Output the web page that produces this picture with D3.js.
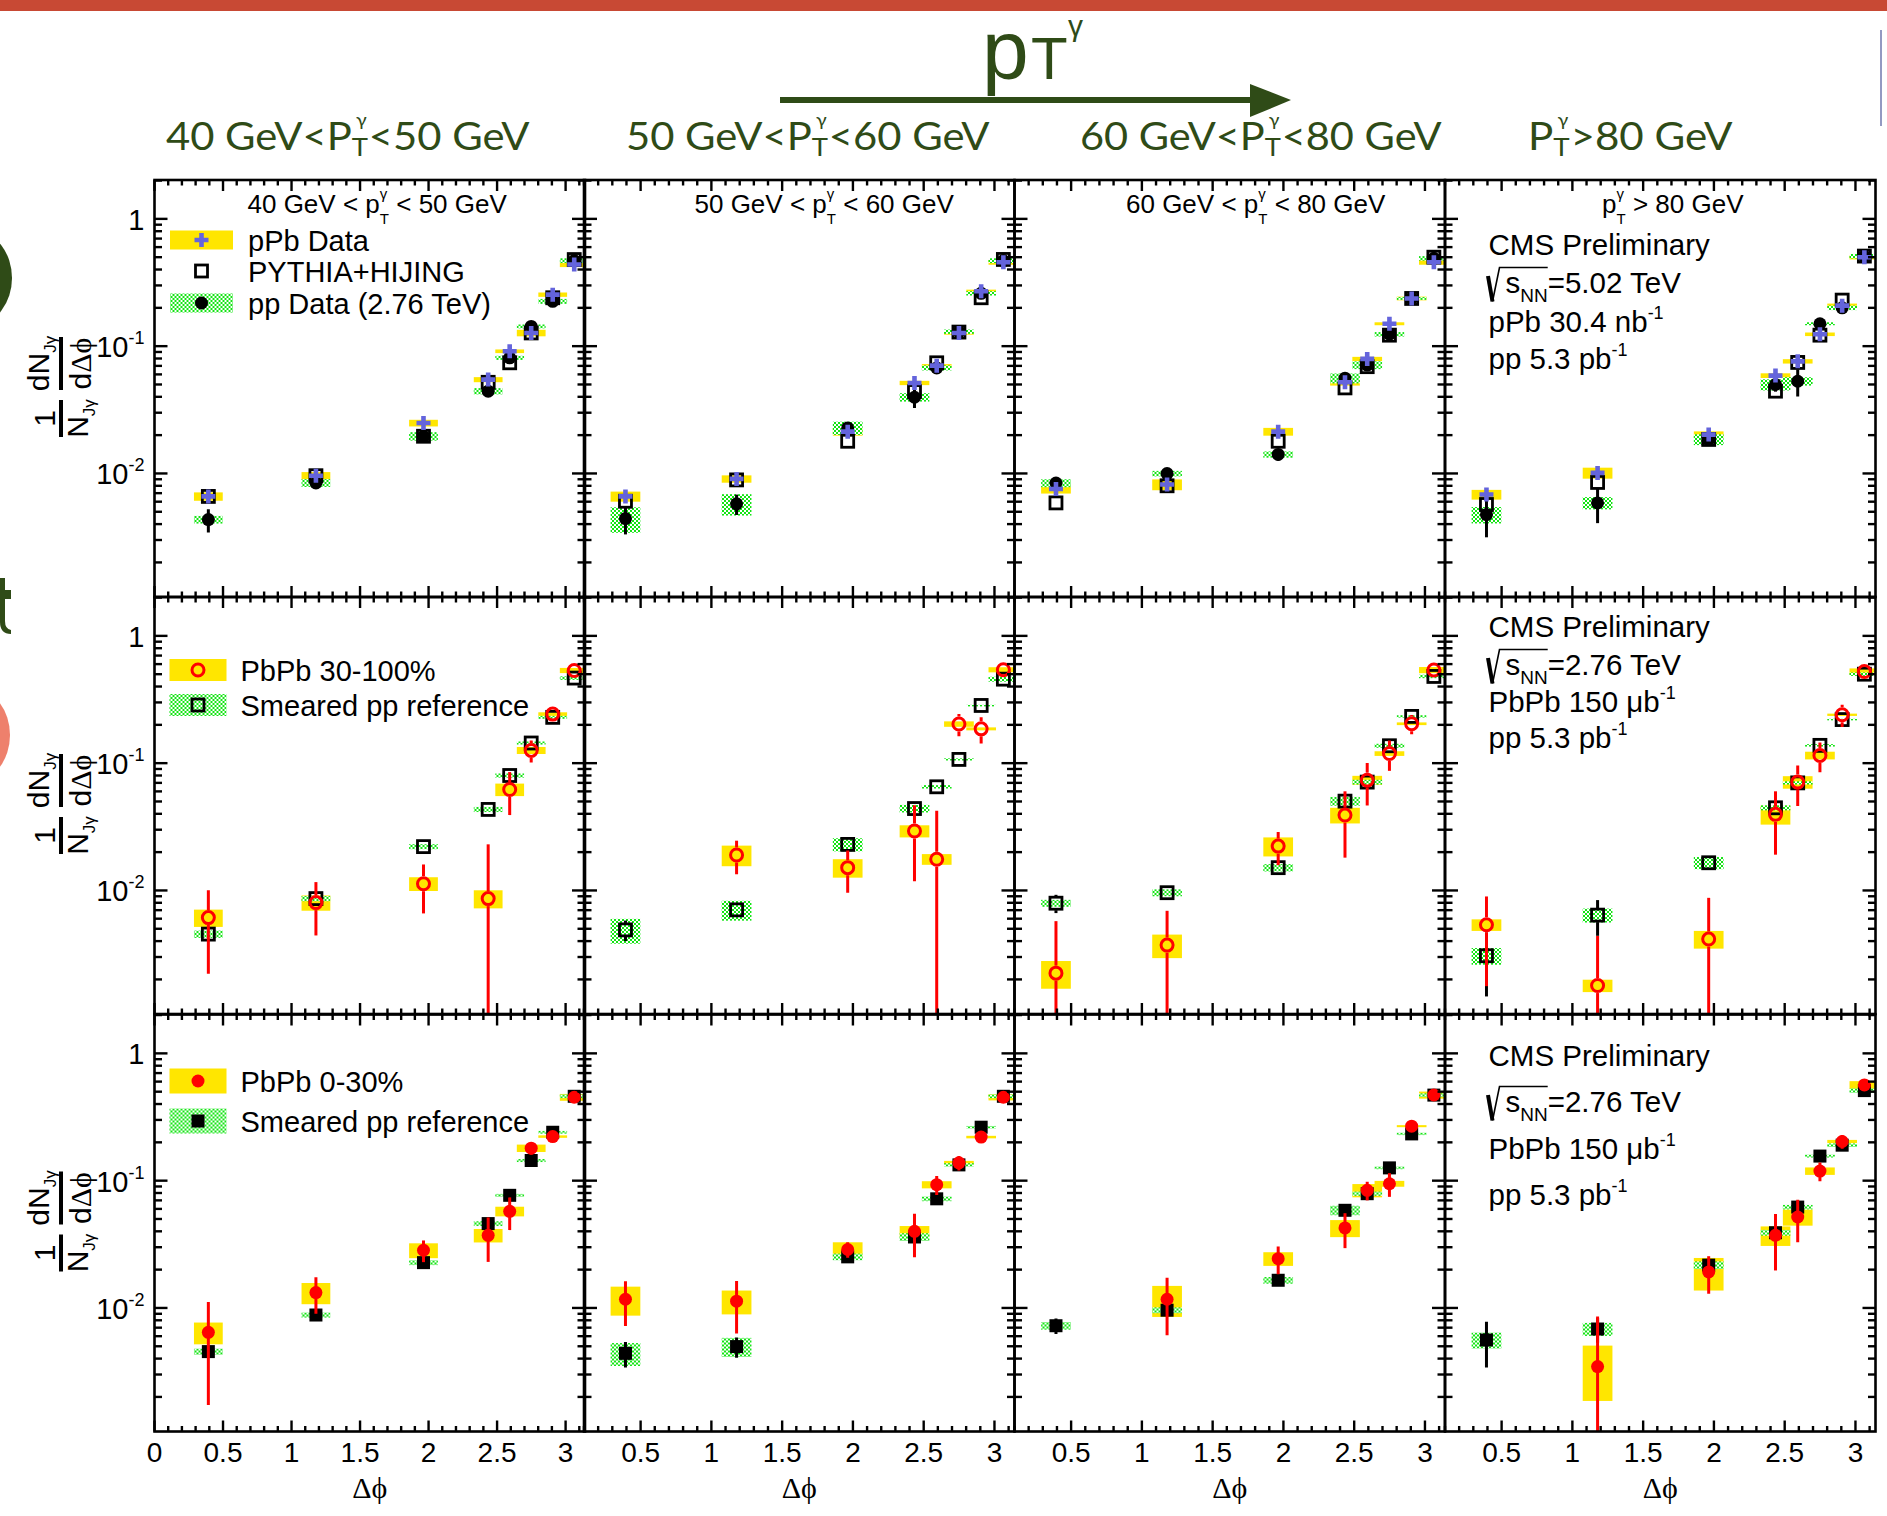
<!DOCTYPE html>
<html>
<head>
<meta charset="utf-8">
<title>Jet–photon azimuthal correlations</title>
<script src="https://cdn.jsdelivr.net/npm/d3@7"></script>
<style>
  html, body { margin: 0; padding: 0; background: #fff; }
  svg { display: block; }
</style>
</head>
<body>
<svg id="fig" width="1887" height="1516"></svg>
<script>
// ---------------------------------------------------------------------------
// Data
// ---------------------------------------------------------------------------
// Δφ bin centres shared by every panel
const dphi = [0.393, 1.178, 1.963, 2.435, 2.592, 2.749, 2.906, 3.063];

// photon pT selections, one per column
const headLow  = ["40 GeV<", "50 GeV<", "60 GeV<", ""];
const headHigh = ["<50 GeV", "<60 GeV", "<80 GeV", ">80 GeV"];
const panelLow  = ["40 GeV < ", "50 GeV < ", "60 GeV < ", ""];
const panelHigh = [" < 50 GeV", " < 60 GeV", " < 80 GeV", " > 80 GeV"];

// y tick labels (decades)
const yTickDecades = [0, -1, -2];

// Row 1: pPb 5.02 TeV vs PYTHIA+HIJING vs pp 2.76 TeV  (one inner array per column)
const pPbVal = [
  [0.0066, 0.0096, 0.0249, 0.0546, 0.0912, 0.127, 0.254, 0.438],
  [0.0066, 0.00906, 0.0213, 0.0514, 0.0703, 0.127, 0.27, 0.456],
  [0.00755, 0.00818, 0.0213, 0.052, 0.0794, 0.15, 0.237, 0.456],
  [0.00683, 0.0101, 0.0202, 0.0587, 0.076, 0.124, 0.208, 0.50]
];
const pPbSys = [
  [0.0005, 0.00065, 0.0015, 0.0025, 0.003, 0.0075, 0.01, 0.02],
  [0.0006, 0.0006, 0.0015, 0.002, 0.002, 0.004, 0.008, 0.02],
  [0.0006, 0.0008, 0.0015, 0.003, 0.003, 0.004, 0.008, 0.02],
  [0.0006, 0.001, 0.0012, 0.0025, 0.003, 0.004, 0.008, 0.02]
];
const pythiaVal = [
  [0.0066, 0.0096, 0.0196, 0.052, 0.074, 0.127, 0.24, 0.479],
  [0.00605, 0.0089, 0.0179, 0.044, 0.074, 0.129, 0.24, 0.48],
  [0.00587, 0.008, 0.0179, 0.047, 0.069, 0.122, 0.237, 0.5],
  [0.0057, 0.0085, 0.0185, 0.0443, 0.0745, 0.122, 0.23, 0.51]
];
const ppVal = [
  [0.00434, 0.00843, 0.0196, 0.0443, 0.081, 0.143, 0.225, 0.47],
  [0.00442, 0.00577, 0.0228, 0.0397, 0.0675, 0.13, 0.26, 0.47],
  [0.0084, 0.00998, 0.0141, 0.056, 0.071, 0.124, 0.237, 0.49],
  [0.00475, 0.00587, 0.0185, 0.0499, 0.053, 0.15, 0.20, 0.51]
];
const ppStat = [
  [0.0009, 0.0008, 0.0015, 0.003, 0.005, 0.008, 0.012, 0.02],
  [0.0011, 0.00105, 0.002, 0.007, 0.007, 0.008, 0.012, 0.02],
  [0.0009, 0.001, 0.0015, 0.004, 0.005, 0.006, 0.01, 0.02],
  [0.0016, 0.0018, 0.002, 0.006, 0.0127, 0.01, 0.015, 0.02]
];
const ppSys = [
  [0.0003, 0.0006, 0.0015, 0.0025, 0.003, 0.005, 0.01, 0.02],
  [0.001, 0.0011, 0.0027, 0.003, 0.003, 0.005, 0.01, 0.02],
  [0.0006, 0.0005, 0.0008, 0.005, 0.005, 0.005, 0.006, 0.02],
  [0.0007, 0.00065, 0.0018, 0.005, 0.004, 0.004, 0.008, 0.02]
];

// Row 2: PbPb 30-100% vs smeared pp reference
const perVal = [
  [0.00612, 0.00803, 0.0113, 0.00863, 0.0621, 0.126, 0.243, 0.535],
  [null, 0.019, 0.0151, 0.0293, 0.0176, 0.203, 0.186, 0.542],
  [0.00224, 0.00372, 0.0223, 0.0391, 0.0735, 0.119, 0.204, 0.539],
  [0.00537, 0.00179, 0.00415, 0.0396, 0.071, 0.115, 0.24, 0.525]
];
const perStat = [
  [0.0039, 0.0036, 0.0047, 0.0144, 0.023, 0.025, 0.03, 0.03],
  [null, 0.0056, 0.0055, 0.0175, 0.0246, 0.04, 0.043, 0.03],
  [0.0035, 0.0032, 0.0065, 0.021, 0.027, 0.032, 0.035, 0.03],
  [0.0036, 0.0026, 0.0046, 0.0205, 0.025, 0.03, 0.048, 0.03]
];
const perSys = [
  [0.00095, 0.0011, 0.0014, 0.0014, 0.007, 0.008, 0.008, 0.025],
  [null, 0.0035, 0.0025, 0.0032, 0.0017, 0.01, 0.005, 0.025],
  [0.00055, 0.00078, 0.0038, 0.0055, 0.006, 0.005, 0.005, 0.03],
  [0.00056, 0.0002, 0.00066, 0.0067, 0.008, 0.008, 0.005, 0.03]
];
const refPerVal = [
  [0.00454, 0.00863, 0.0221, 0.0433, 0.08, 0.144, 0.229, 0.466],
  [0.0049, 0.00704, 0.023, 0.044, 0.0652, 0.107, 0.284, 0.457],
  [0.00794, 0.0096, 0.0151, 0.0503, 0.071, 0.137, 0.233, 0.48],
  [0.00307, 0.0064, 0.0165, 0.0446, 0.07, 0.138, 0.22, 0.5]
];
const refPerStat = [
  [0.0003, 0.0005, 0.001, 0.002, 0.003, 0.005, 0.008, 0.015],
  [0.0009, 0.0008, 0.001, 0.002, 0.003, 0.004, 0.008, 0.015],
  [0.0013, 0.0008, 0.0015, 0.002, 0.003, 0.005, 0.008, 0.015],
  [0.0016, 0.002, 0.002, 0.003, 0.004, 0.006, 0.008, 0.015]
];
const refPerSys = [
  [0.0003, 0.0004, 0.001, 0.002, 0.003, 0.004, 0.006, 0.015],
  [0.00108, 0.00125, 0.0027, 0.003, 0.002, 0.002, 0.003, 0.02],
  [0.0005, 0.0006, 0.001, 0.004, 0.003, 0.005, 0.005, 0.015],
  [0.00046, 0.0008, 0.0018, 0.002, 0.002, 0.003, 0.003, 0.015]
];

// Row 3: PbPb 0-30% vs smeared pp reference
const cenVal = [
  [0.00643, 0.0132, 0.0284, 0.0372, 0.0574, 0.18, 0.222, 0.452],
  [0.0117, 0.0113, 0.0288, 0.04, 0.093, 0.138, 0.22, 0.452],
  [null, 0.0117, 0.0244, 0.0425, 0.084, 0.0946, 0.268, 0.471],
  [null, 0.00346, 0.0192, 0.0372, 0.0518, 0.119, 0.203, 0.565]
];
const cenStat = [
  [0.0047, 0.0042, 0.0055, 0.0142, 0.0165, 0.02, 0.02, 0.02],
  [0.0045, 0.005, 0.004, 0.015, 0.016, 0.018, 0.015, 0.02],
  [null, 0.0056, 0.006, 0.013, 0.014, 0.02, 0.02, 0.02],
  [null, 0.0051, 0.0063, 0.0175, 0.019, 0.02, 0.025, 0.03]
];
const cenSys = [
  [0.00125, 0.0025, 0.0038, 0.0045, 0.005, 0.012, 0.005, 0.028],
  [0.003, 0.0024, 0.004, 0.004, 0.006, 0.005, 0.005, 0.025],
  [null, 0.0032, 0.003, 0.0065, 0.01, 0.005, 0.005, 0.03],
  [null, 0.0016, 0.0055, 0.0065, 0.0075, 0.008, 0.006, 0.04]
];
const refCenVal = [
  [0.00454, 0.0088, 0.0227, 0.046, 0.0767, 0.144, 0.24, 0.46],
  [0.0044, 0.00497, 0.0252, 0.0361, 0.072, 0.133, 0.263, 0.46],
  [0.00725, 0.0096, 0.0165, 0.0585, 0.079, 0.126, 0.233, 0.47],
  [0.0056, 0.00683, 0.0217, 0.039, 0.062, 0.156, 0.19, 0.51]
];
const refCenStat = [
  [0.0003, 0.0008, 0.001, 0.002, 0.003, 0.005, 0.008, 0.015],
  [0.001, 0.0009, 0.0015, 0.002, 0.004, 0.005, 0.008, 0.015],
  [0.001, 0.001, 0.0015, 0.004, 0.004, 0.005, 0.008, 0.015],
  [0.0022, 0.0015, 0.002, 0.003, 0.005, 0.006, 0.01, 0.02]
];
const refCenSys = [
  [0.00025, 0.0004, 0.001, 0.002, 0.002, 0.004, 0.006, 0.015],
  [0.0009, 0.00085, 0.0015, 0.0025, 0.003, 0.004, 0.006, 0.015],
  [0.0005, 0.0005, 0.001, 0.005, 0.003, 0.003, 0.005, 0.015],
  [0.0008, 0.0008, 0.0015, 0.002, 0.0025, 0.004, 0.006, 0.02]
];

// legend labels and the collision-system text of the last column
const legendLabels = [
  ["pPb Data", "PYTHIA+HIJING", "pp Data (2.76 TeV)"],
  ["PbPb 30-100%", "Smeared pp reference"],
  ["PbPb 0-30%", "Smeared pp reference"]
];
const sqrtSnn = ["5.02", "2.76", "2.76"];
const lumiLines = [
  ["pPb 30.4 nb", "pp 5.3 pb"],
  ["PbPb 150 μb", "pp 5.3 pb"],
  ["PbPb 150 μb", "pp 5.3 pb"]
];

// ---------------------------------------------------------------------------
// Layout and style
// ---------------------------------------------------------------------------
const SANS = "'Liberation Sans', Arial, Helvetica, sans-serif";
const SERIF = "'Liberation Serif', 'DejaVu Serif', serif";
const HEAD = "Lato, 'Open Sans', sans-serif";
const HEAD_GREEN = "#2f4b17";
const YELLOW = "#ffe600";
const CHECK_GREEN = "#14e414";
const BLUE = "#6464dc";
const RED = "#ff0000";

const colLeft = [154.5, 584, 1014.5, 1445];
const PW = 430.5;
const rowTop = [180, 597, 1014.5];
const PH = 417;
const yDomain = [1.07e-3, 2.02];
const BOX_W = 0.21;          // width of systematic boxes in Δφ

const svg = d3.select("#fig");
const defs = svg.append("defs");

// checkered fill used for pp systematic boxes
const pat = defs.append("pattern").attr("id", "chk")
  .attr("width", 4).attr("height", 4).attr("patternUnits", "userSpaceOnUse");
pat.append("rect").attr("width", 4).attr("height", 4).attr("fill", "#fff");
pat.append("rect").attr("width", 2).attr("height", 2).attr("fill", CHECK_GREEN);
pat.append("rect").attr("x", 2).attr("y", 2).attr("width", 2).attr("height", 2).attr("fill", CHECK_GREEN);

svg.append("rect").attr("width", 1887).attr("height", 1516).attr("fill", "#fff");

// ---------------------------------------------------------------------------
// Slide decoration: header band, edges, pT arrow and column headers
// ---------------------------------------------------------------------------
svg.append("rect").attr("x", 0).attr("y", 0).attr("width", 1887).attr("height", 11).attr("fill", "#c84934");
svg.append("ellipse").attr("cx", -24).attr("cy", 278).attr("rx", 36).attr("ry", 46).attr("fill", HEAD_GREEN);
svg.append("path").attr("d", "M0,578 h5 v12 h6 v9 h-6 v22 q0,8 6,9 v4 q-11,0 -11,-12 z").attr("fill", HEAD_GREEN);
svg.append("ellipse").attr("cx", -26).attr("cy", 735).attr("rx", 36).attr("ry", 46).attr("fill", "#ee806c");
svg.append("rect").attr("x", 1880).attr("y", 30).attr("width", 2).attr("height", 96).attr("fill", "#3a4590").attr("opacity", 0.55);

// big pT^γ with arrow
const big = svg.append("g").attr("fill", HEAD_GREEN).attr("font-family", SANS);
big.append("text").attr("x", 982).attr("y", 79).attr("font-size", 84).text("p");
big.append("text").attr("x", 1031).attr("y", 79).attr("font-size", 60).text("T");
big.append("text").attr("x", 1068).attr("y", 36).attr("font-size", 30).text("γ");
big.append("rect").attr("x", 780).attr("y", 97).attr("width", 474).attr("height", 6);
big.append("path").attr("d", "M1250,84 L1291,100 L1250,117 Z");

// column headers, stretched to their measured widths
const headSpan = [[166, 530], [626, 990], [1080, 1442], [1528, 1733]];
headLow.forEach((lo, c) => {
  const g = svg.append("g").attr("transform", `translate(${headSpan[c][0]},150)`);
  const t = g.append("text").attr("font-family", HEAD).attr("font-size", 38).attr("fill", HEAD_GREEN);
  t.append("tspan").text(lo + "P");
  t.append("tspan").attr("font-size", 25).attr("dy", 6).text("T");
  t.append("tspan").attr("font-size", 18).attr("dx", -11).attr("dy", -30).text("γ");
  t.append("tspan").attr("dy", 24).attr("dx", 2).text(headHigh[c]);
  const bb = t.node().getBBox();
  const s = (headSpan[c][1] - headSpan[c][0]) / bb.width;
  t.attr("transform", `scale(${s},1) translate(${-bb.x},0)`);
});

// ---------------------------------------------------------------------------
// Marker helpers
// ---------------------------------------------------------------------------
function marker(sel, shape, cx, cy) {
  switch (shape) {
    case "plus":
      sel.append("path")
        .attr("d", `M${cx - 7},${cy - 2.3}h14v4.6h-14z M${cx - 2.3},${cy - 7}h4.6v14h-4.6z`)
        .attr("fill", BLUE);
      break;
    case "openSquare":
      sel.append("rect").attr("x", cx - 6).attr("y", cy - 6).attr("width", 12).attr("height", 12)
        .attr("fill", "none").attr("stroke", "#000").attr("stroke-width", 2.8);
      break;
    case "square":
      sel.append("rect").attr("x", cx - 6.5).attr("y", cy - 6.5).attr("width", 13).attr("height", 13)
        .attr("fill", "#000");
      break;
    case "dot":
      sel.append("circle").attr("cx", cx).attr("cy", cy).attr("r", 6.5).attr("fill", "#000");
      break;
    case "openCircle":
      sel.append("circle").attr("cx", cx).attr("cy", cy).attr("r", 6)
        .attr("fill", "none").attr("stroke", RED).attr("stroke-width", 3);
      break;
    case "redDot":
      sel.append("circle").attr("cx", cx).attr("cy", cy).attr("r", 6.5).attr("fill", RED);
      break;
  }
}

// drawing layers of each row, bottom to top
const rowLayers = [
  [
    { kind: "box", val: pPbVal, sys: pPbSys, fill: YELLOW },
    { kind: "box", val: ppVal, sys: ppSys, fill: "url(#chk)" },
    { kind: "err", val: ppVal, err: ppStat, color: "#000", gap: 0 },
    { kind: "mark", val: ppVal, shape: "dot" },
    { kind: "mark", val: pythiaVal, shape: "openSquare" },
    { kind: "mark", val: pPbVal, shape: "plus" }
  ],
  [
    { kind: "box", val: perVal, sys: perSys, fill: YELLOW },
    { kind: "box", val: refPerVal, sys: refPerSys, fill: "url(#chk)" },
    { kind: "err", val: refPerVal, err: refPerStat, color: "#000", gap: 7 },
    { kind: "mark", val: refPerVal, shape: "openSquare" },
    { kind: "err", val: perVal, err: perStat, color: RED, gap: 7.5 },
    { kind: "mark", val: perVal, shape: "openCircle" }
  ],
  [
    { kind: "box", val: cenVal, sys: cenSys, fill: YELLOW },
    { kind: "box", val: refCenVal, sys: refCenSys, fill: "url(#chk)" },
    { kind: "err", val: refCenVal, err: refCenStat, color: "#000", gap: 0 },
    { kind: "mark", val: refCenVal, shape: "square" },
    { kind: "err", val: cenVal, err: cenStat, color: RED, gap: 0 },
    { kind: "mark", val: cenVal, shape: "redDot" }
  ]
];

// legend geometry per row (relative to the first panel of the row)
const legendGeom = [
  { boxX: 15.5, boxW: 63, textX: 93.5, cy: [60, 91, 123], boxH: 19,
    items: [["box", YELLOW, "plus"], [null, null, "openSquare"], ["box", "url(#chk)", "dot"]] },
  { boxX: 15, boxW: 57, textX: 86, cy: [73, 108], boxH: 22,
    items: [["box", YELLOW, "openCircle"], ["box", "url(#chk)", "openSquare"]] },
  { boxX: 15, boxW: 57, textX: 86, cy: [66.5, 106.5], boxH: 25,
    items: [["box", YELLOW, "redDot"], ["box", "url(#chk)", "square"]] }
];

// text block of the last column: baselines relative to the row top
const infoBase = [[75, 113, 152, 188.5], [39.7, 78, 114.7, 151.3], [51.2, 97.5, 144.5, 190.5]];
const panelTitleX = [93, 110.5, 111.5, 157];

// ---------------------------------------------------------------------------
// Panels
// ---------------------------------------------------------------------------
function drawPanel(row, col) {
  const g = svg.append("g").attr("transform", `translate(${colLeft[col]},${rowTop[row]})`);
  const x = d3.scaleLinear().domain([col === 0 ? 0 : 0.1, Math.PI]).range([0, PW]);
  const y = d3.scaleLog().domain(yDomain).range([PH, 0]);
  const yc = v => y(Math.max(v, yDomain[0] * 0.3));

  const clipId = `clip-${row}-${col}`;
  defs.append("clipPath").attr("id", clipId)
    .append("rect").attr("width", PW).attr("height", PH);
  const plot = g.append("g").attr("clip-path", `url(#${clipId})`);

  rowLayers[row].forEach(layer => {
    const vals = layer.val[col];
    const lg = plot.append("g");
    dphi.forEach((d, i) => {
      const v = vals[i];
      if (v == null) return;
      const cx = x(d), cy = y(v);
      if (layer.kind === "box") {
        const s = layer.sys[col][i];
        const y0 = y(v + s), y1 = yc(v - s);
        lg.append("rect")
          .attr("x", x(d - BOX_W / 2)).attr("width", x(d + BOX_W / 2) - x(d - BOX_W / 2))
          .attr("y", y0).attr("height", Math.max(y1 - y0, 1.5))
          .attr("fill", layer.fill);
      } else if (layer.kind === "err") {
        const e = layer.err[col][i];
        const top = y(v + e), bot = yc(v - e);
        const segs = [[top, cy - layer.gap], [cy + layer.gap, bot]];
        segs.forEach(([a, b]) => {
          if (b - a > 0.5) {
            lg.append("line").attr("x1", cx).attr("x2", cx).attr("y1", a).attr("y2", b)
              .attr("stroke", layer.color).attr("stroke-width", 3);
          }
        });
      } else {
        marker(lg, layer.shape, cx, cy);
      }
    });
  });

  // frame and inward ticks on all four sides
  const t = g.append("g").attr("stroke", "#000").attr("stroke-width", 2.4);
  const [x0, x1] = x.domain();
  d3.range(0, 32).map(k => k / 10).filter(v => v >= x0 - 1e-9 && v <= x1).forEach(v => {
    const major = Math.round(v * 10) % 5 === 0;
    const L = major ? 11 : 5.5;
    const px = x(v);
    t.append("line").attr("x1", px).attr("x2", px).attr("y1", PH).attr("y2", PH - L);
    t.append("line").attr("x1", px).attr("x2", px).attr("y1", 0).attr("y2", L);
  });
  y.ticks().forEach(v => {
    const m = Math.round(v / Math.pow(10, Math.floor(Math.log10(v) + 1e-9)));
    const L = m === 1 ? 13 : 7.5;
    const py = y(v);
    t.append("line").attr("x1", 0).attr("x2", L).attr("y1", py).attr("y2", py);
    t.append("line").attr("x1", PW).attr("x2", PW - L).attr("y1", py).attr("y2", py);
  });
  g.append("rect").attr("width", PW).attr("height", PH)
    .attr("fill", "none").attr("stroke", "#000").attr("stroke-width", 2.6);

  // y tick labels on the first column
  if (col === 0) {
    yTickDecades.forEach(e => {
      const txt = g.append("text").attr("x", -10).attr("y", y(Math.pow(10, e)) + 11)
        .attr("text-anchor", "end").attr("font-family", SANS).attr("font-size", 29);
      if (e === 0) {
        txt.text("1");
      } else {
        txt.append("tspan").text("10");
        txt.append("tspan").attr("font-size", 18).attr("dy", -13).text(String(e));
      }
    });
  }

  // x tick labels and axis title under the last row
  if (row === 2) {
    const fmt = d3.format("~g");
    d3.range(0, 7).map(k => k / 2).filter(v => v >= x0 - 1e-9).forEach(v => {
      g.append("text").attr("x", x(v)).attr("y", PH + 30).attr("text-anchor", "middle")
        .attr("font-family", SANS).attr("font-size", 28).text(fmt(v));
    });
    g.append("text").attr("x", PW / 2).attr("y", PH + 66).attr("text-anchor", "middle")
      .attr("font-family", SERIF).attr("font-size", 30).text("Δϕ");
  }

  // pT selection of the column on the top row
  if (row === 0) {
    const tt = g.append("text").attr("x", panelTitleX[col]).attr("y", 33)
      .attr("font-family", SANS).attr("font-size", 26);
    tt.append("tspan").text(panelLow[col] + "p");
    tt.append("tspan").attr("font-size", 15).attr("dy", 11).text("T");
    tt.append("tspan").attr("font-size", 15).attr("dx", -9.2).attr("dy", -25).text("γ");
    tt.append("tspan").attr("dx", 1.8).attr("dy", 14).text(panelHigh[col]);
  }

  // legend in the first column
  if (col === 0) {
    const L = legendGeom[row];
    L.items.forEach((it, k) => {
      const cy = L.cy[k];
      if (it[0]) {
        g.append("rect").attr("x", L.boxX).attr("y", cy - L.boxH / 2)
          .attr("width", L.boxW).attr("height", L.boxH).attr("fill", it[1]);
      }
      marker(g, it[2], L.boxX + L.boxW / 2, cy);
      g.append("text").attr("x", L.textX).attr("y", cy + 10.5)
        .attr("font-family", SANS).attr("font-size", 29).text(legendLabels[row][k]);
    });
  }

  // collision-system text in the last column
  if (col === 3) {
    const ax = 43.5, b = infoBase[row];
    const info = g.append("g").attr("font-family", SANS).attr("font-size", 29.5);
    info.append("text").attr("x", ax).attr("y", b[0]).text("CMS Preliminary");
    // √s_NN with radical sign
    const st = info.append("text").attr("x", ax + 17).attr("y", b[1]);
    const s1 = st.append("tspan").text("s");
    const s2 = st.append("tspan").attr("font-size", 19).attr("dy", 9).text("NN");
    st.append("tspan").attr("dy", -9).text("=" + sqrtSnn[row] + " TeV");
    const rw = s1.node().getComputedTextLength() + s2.node().getComputedTextLength();
    const yb = b[1];
    info.append("path").attr("d", `M${ax - 0.5},${yb - 17} L${ax + 4},${yb + 8.5}`)
      .attr("stroke", "#000").attr("stroke-width", 4).attr("fill", "none");
    info.append("path").attr("d", `M${ax + 4},${yb + 8.5} L${ax + 11},${yb - 25.5} H${ax + 17 + rw}`)
      .attr("stroke", "#000").attr("stroke-width", 1.6).attr("fill", "none");
    lumiLines[row].forEach((line, k) => {
      const lt = info.append("text").attr("x", ax).attr("y", b[2 + k]);
      lt.append("tspan").text(line);
      lt.append("tspan").attr("font-size", 18).attr("dy", -13).text("-1");
    });
  }
}

// y-axis title: 1/N_Jγ dN_Jγ/dΔφ, rotated
function yTitle(row) {
  const g = svg.append("g")
    .attr("transform", `translate(61,${rowTop[row] + 207}) rotate(-90)`)
    .attr("font-family", SANS).attr("font-size", 30).attr("text-anchor", "middle");
  g.append("rect").attr("x", -50).attr("y", -2).attr("width", 37).attr("height", 4);
  g.append("text").attr("x", -31.5).attr("y", -6).text("1");
  const d1 = g.append("text").attr("x", -31.5).attr("y", 27);
  d1.append("tspan").text("N");
  d1.append("tspan").attr("font-size", 17).attr("dy", 7).text("Jγ");
  g.append("rect").attr("x", -3).attr("y", -2).attr("width", 53).attr("height", 4);
  const n2 = g.append("text").attr("x", 23.5).attr("y", -12);
  n2.append("tspan").text("dN");
  n2.append("tspan").attr("font-size", 17).attr("dy", 7).text("Jγ");
  const d2 = g.append("text").attr("x", 23.5).attr("y", 30);
  d2.append("tspan").text("d");
  d2.append("tspan").attr("font-family", SERIF).text("Δϕ");
}

for (let r = 0; r < 3; r++) {
  yTitle(r);
  for (let c = 0; c < 4; c++) drawPanel(r, c);
}
</script>
</body>
</html>
